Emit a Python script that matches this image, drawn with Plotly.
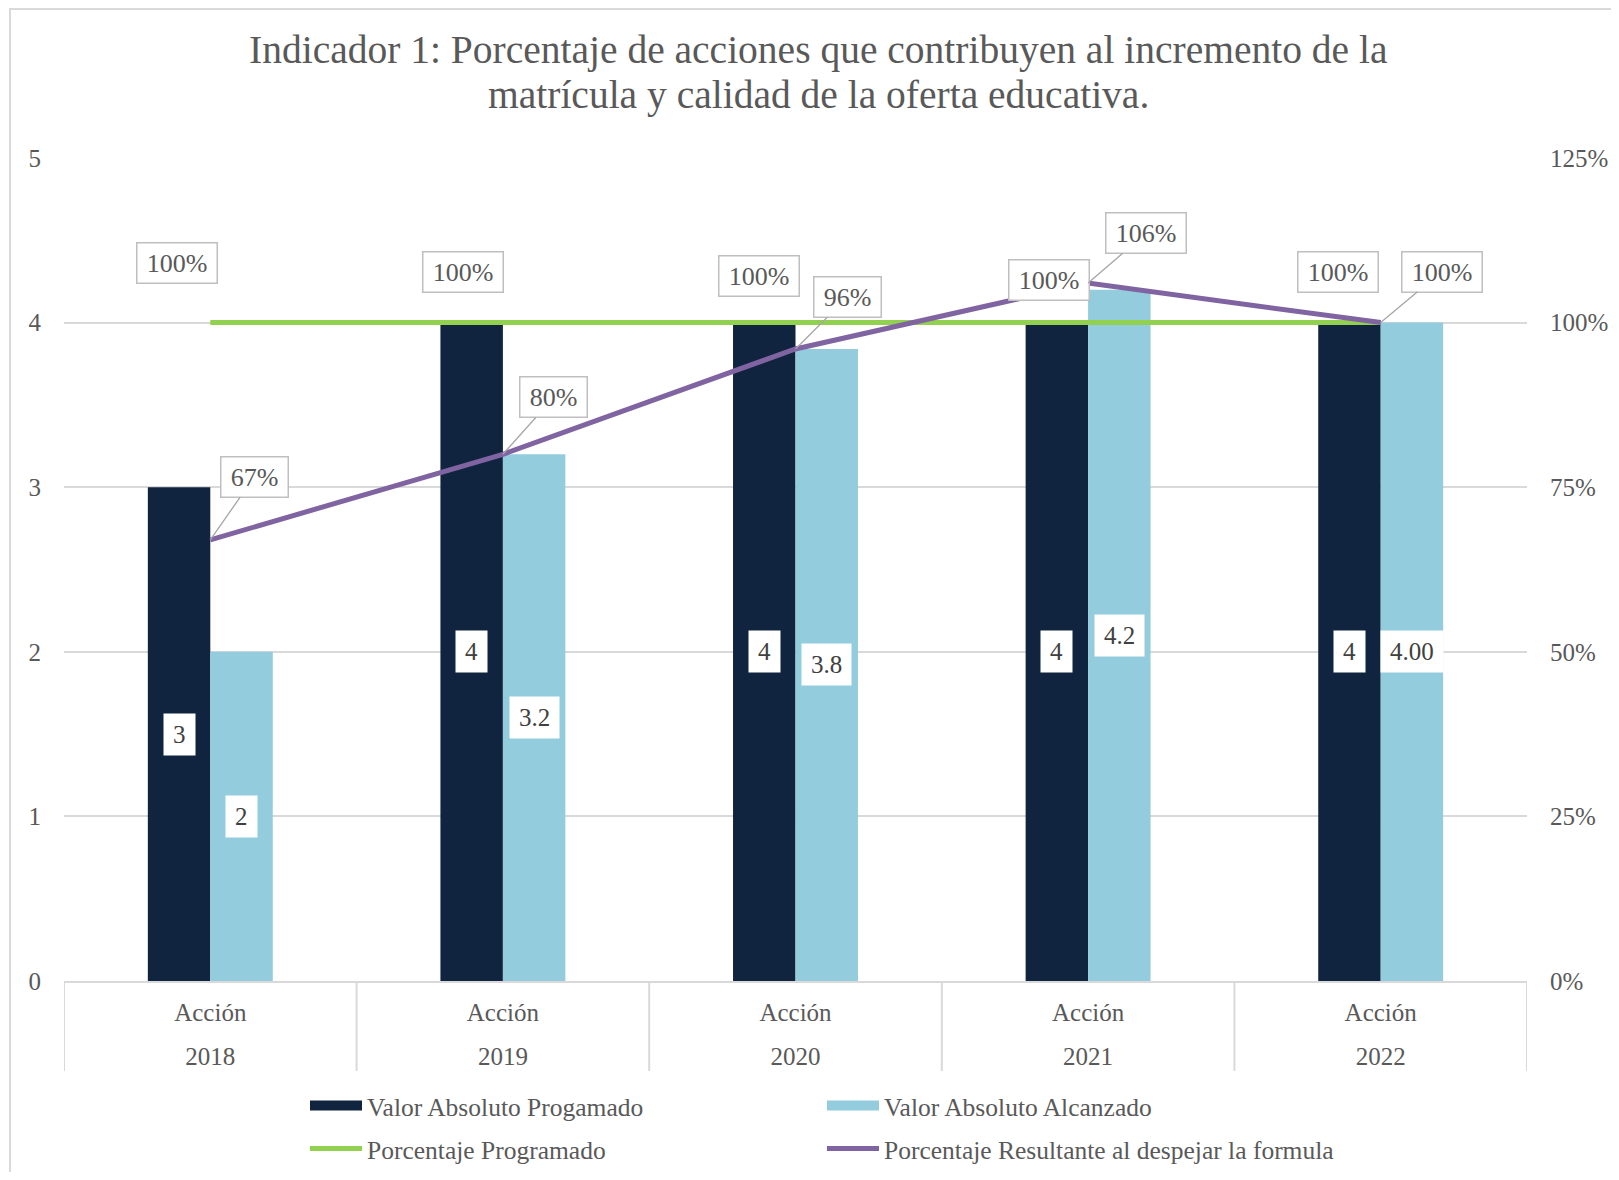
import plotly.graph_objects as go

# ---- data ----
years = ["2018", "2019", "2020", "2021", "2022"]
inner_labels = ["Acción", "Acción", "Acción", "Acción", "Acción"]
valor_programado = [3, 4, 4, 4, 4]
valor_alcanzado = [2, 3.2, 3.84, 4.2, 4.0]
label_programado = ["3", "4", "4", "4", "4"]
label_alcanzado = ["2", "3.2", "3.8", "4.2", "4.00"]
pct_programado = [1.0, 1.0, 1.0, 1.0, 1.0]
pct_resultante = [0.67, 0.80, 0.96, 1.06, 1.00]
left_ticks = [0, 1, 2, 3, 4, 5]
right_ticks = [0, 0.25, 0.5, 0.75, 1.0, 1.25]
title_lines = ["Indicador 1: Porcentaje de acciones que contribuyen al incremento de la",
               "matrícula y calidad de la oferta educativa."]

# ---- styles ----
FONT = "Liberation Serif"
DARK = "#11243f"
LIGHT = "#93cddd"
GREEN = "#92d050"
PURPLE = "#8064a2"
TXT = "#595959"
GRID = "#d9d9d9"

OFF = 8  # page body margin
W, H = 1619 - 2 * OFF, 1180 - 2 * OFF
# plot area in page pixels
PL, PR, PT, PB = 64, 1527, 158, 981
L, R, T, B = PL - OFF, W - (PR - OFF), PT - OFF, H - (PB - OFF)
PW, PH = W - L - R, H - T - B


def px_x(p):  # page px -> paper
    return (p - OFF - L) / PW


def px_y(p):
    return (H - B - (p - OFF)) / PH


fig = go.Figure()
fig.add_trace(go.Bar(x=years, y=valor_programado, marker=dict(color=DARK, line=dict(width=0)),
                     name="Valor Absoluto Progamado", showlegend=False))
fig.add_trace(go.Bar(x=years, y=valor_alcanzado, marker=dict(color=LIGHT, line=dict(width=0)),
                     name="Valor Absoluto Alcanzado", showlegend=False))
fig.add_trace(go.Scatter(x=years, y=pct_programado, yaxis="y2", mode="lines",
                         line=dict(color=GREEN, width=5), showlegend=False))
fig.add_trace(go.Scatter(x=years, y=pct_resultante, yaxis="y2", mode="lines",
                         line=dict(color=PURPLE, width=5), showlegend=False))

# legend proxies
fig.add_trace(go.Scatter(x=[None], y=[None], mode="lines", line=dict(color=DARK, width=13),
                         name="Valor Absoluto Progamado", legend="legend"))
fig.add_trace(go.Scatter(x=[None], y=[None], mode="lines", line=dict(color=LIGHT, width=13),
                         name="Valor Absoluto Alcanzado", legend="legend"))
fig.add_trace(go.Scatter(x=[None], y=[None], mode="lines", line=dict(color=GREEN, width=5),
                         name="Porcentaje Programado", legend="legend2"))
fig.add_trace(go.Scatter(x=[None], y=[None], mode="lines", line=dict(color=PURPLE, width=5),
                         name="Porcentaje Resultante al despejar la formula", legend="legend2"))

annotations = []
for txt, ypix in zip(title_lines, [50, 95]):
    annotations.append(dict(x=px_x(818), y=px_y(ypix), xref="paper", yref="paper",
                            text=txt, showarrow=False, xanchor="center", yanchor="middle",
                            font=dict(family=FONT, size=39.5, color=TXT)))

half = 0.1067
HS = "\u200a"
for i in range(len(years)):
    annotations.append(dict(x=i - half, y=valor_programado[i] / 2, xref="x2", yref="y",
                            text=HS + label_programado[i] + HS, showarrow=False, bgcolor="white",
                            borderpad=7, font=dict(family=FONT, size=25, color="#404040")))
    annotations.append(dict(x=i + half, y=valor_alcanzado[i] / 2, xref="x2", yref="y",
                            text=HS + label_alcanzado[i] + HS, showarrow=False, bgcolor="white",
                            borderpad=7, font=dict(family=FONT, size=25, color="#404040")))

SP = "\u2006"
green_off = [(-33, -60), (-40, -51), (-37, -47), (-39, -43), (-43, -51)]
purple_off = [(44, -63), (51, -57), (52, -52), (58, -50), (61, -51)]
for i in range(len(years)):
    dx, dy = green_off[i]
    annotations.append(dict(x=i, y=pct_programado[i], xref="x2", yref="y2",
                            text=SP + f"{pct_programado[i]:.0%}" + SP, showarrow=False,
                            xshift=dx, yshift=-dy, bgcolor="white", bordercolor="#bfbfbf",
                            borderwidth=1.5, borderpad=5,
                            font=dict(family=FONT, size=26, color=TXT)))
    dx, dy = purple_off[i]
    annotations.append(dict(x=i, y=pct_resultante[i], xref="x2", yref="y2",
                            text=SP + f"{pct_resultante[i]:.0%}" + SP, showarrow=True, arrowhead=0,
                            arrowwidth=1.3, arrowcolor="#a6a6a6", ax=dx, ay=dy,
                            bgcolor="white", bordercolor="#bfbfbf",
                            borderwidth=1.5, borderpad=5,
                            font=dict(family=FONT, size=26, color=TXT)))

shapes = [dict(type="rect", xref="paper", yref="paper",
               x0=px_x(10), x1=px_x(1640), y0=px_y(1200), y1=px_y(9),
               line=dict(color=GRID, width=2), layer="below")]
for i in range(len(years) + 1):
    shapes.append(dict(type="line", xref="x2", yref="paper", x0=i - 0.5, x1=i - 0.5,
                       y0=0, y1=px_y(1071), line=dict(color=GRID, width=2)))

fig.update_layout(
    width=W, height=H,
    margin=dict(l=L, r=R, t=T, b=B, autoexpand=False),
    paper_bgcolor="white", plot_bgcolor="white",
    font=dict(family=FONT, size=25, color=TXT),
    barmode="group", bargap=0.573, bargroupgap=0,
    xaxis=dict(type="category", range=[-0.5, 4.5], tickvals=years, ticktext=inner_labels,
               showline=True, linecolor=GRID, linewidth=2, showgrid=False, ticks="",
               ticklabelstandoff=8, automargin=False,
               tickfont=dict(family=FONT, size=25, color=TXT)),
    xaxis2=dict(overlaying="x", range=[-0.5, 4.5], tickvals=list(range(len(years))),
                ticktext=years, showline=False, showgrid=False, zeroline=False, ticks="",
                ticklabelstandoff=58, automargin=False, side="bottom",
                tickfont=dict(family=FONT, size=25, color=TXT)),
    yaxis=dict(range=[0, 5], tickvals=left_ticks, showgrid=True, gridcolor=GRID, gridwidth=2,
               zeroline=False, showline=False, ticks="", ticklabelstandoff=22, automargin=False,
               tickfont=dict(family=FONT, size=25, color=TXT)),
    yaxis2=dict(range=[0, 1.25], tickvals=right_ticks, tickformat=".0%", overlaying="y",
                side="right", showgrid=False, zeroline=False, showline=False, ticks="",
                ticklabelstandoff=22, automargin=False,
                tickfont=dict(family=FONT, size=25, color=TXT)),
    legend=dict(orientation="h", x=px_x(305), xanchor="left",
                y=px_y(1106), yanchor="middle",
                entrywidth=450, entrywidthmode="pixels", itemwidth=52,
                font=dict(family=FONT, size=25.5, color=TXT), bgcolor="rgba(0,0,0,0)"),
    legend2=dict(orientation="h", x=px_x(305), xanchor="left",
                 y=px_y(1149), yanchor="middle",
                 entrywidth=450, entrywidthmode="pixels", itemwidth=52,
                 font=dict(family=FONT, size=25.5, color=TXT), bgcolor="rgba(0,0,0,0)"),
    annotations=annotations,
    shapes=shapes,
)

fig.write_html("out.html")
